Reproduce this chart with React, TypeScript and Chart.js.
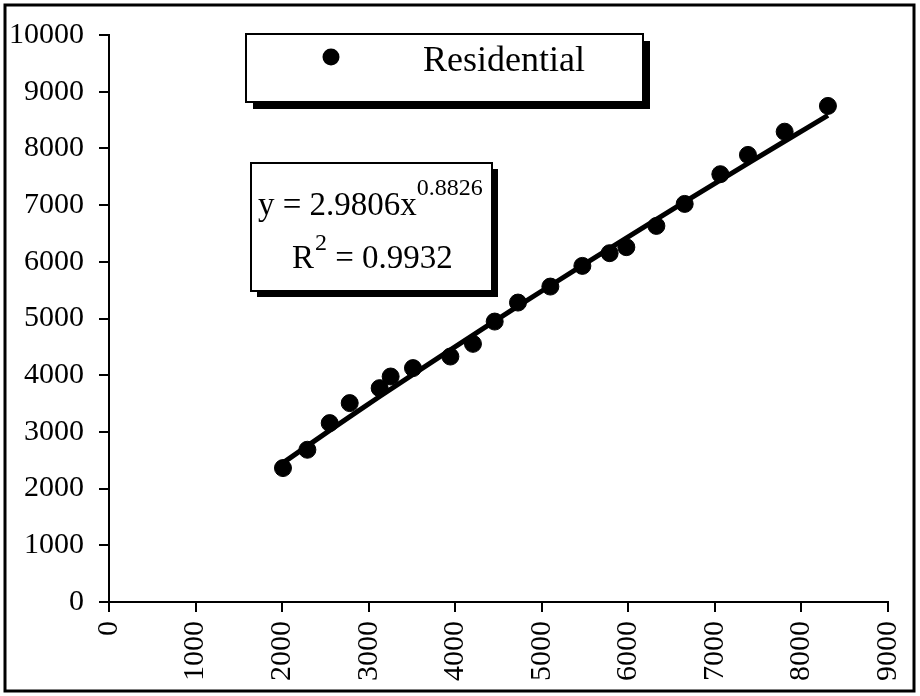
import React, { useEffect, useRef } from "react";
import { Chart, registerables } from "chart.js";

Chart.register(...registerables);

const seriesName = "Residential";
const xValues = [2010, 2292, 2550, 2781, 3127, 3254, 3512, 3944, 4205, 4456, 4725, 5099, 5469, 5784, 5977, 6324, 6651, 7063, 7382, 7806, 8306];
const yValues = [2362, 2685, 3155, 3508, 3772, 3977, 4125, 4329, 4553, 4946, 5281, 5563, 5928, 6152, 6258, 6633, 7021, 7545, 7885, 8295, 8749];
const trendX = [2010, 2550, 3127, 3944, 4725, 5469, 6324, 7063, 7806, 8306];
const trendY = [2453, 3027, 3624, 4447, 5217, 5936, 6748, 7440, 8126, 8582];
const equationMain = "y = 2.9806x";
const equationExp = "0.8826";
const r2Label = "R";
const r2Exp = "2";
const r2Value = " = 0.9932";
const xTicks = [0, 1000, 2000, 3000, 4000, 5000, 6000, 7000, 8000, 9000];
const yTicks = [0, 1000, 2000, 3000, 4000, 5000, 6000, 7000, 8000, 9000, 10000];

const SERIF = '"Liberation Serif", "Times New Roman", serif';

const overlayPlugin = {
  id: "overlay",
  afterDraw(chart: any) {
    const ctx = chart.ctx as CanvasRenderingContext2D;
    ctx.save();
    ctx.strokeStyle = "#000";
    ctx.lineWidth = 3;
    ctx.strokeRect(5, 5, 909, 686);

    const box = (x: number, y: number, w: number, h: number, off: number) => {
      ctx.fillStyle = "#000";
      ctx.fillRect(x + off, y + off, w, h);
      ctx.fillStyle = "#fff";
      ctx.fillRect(x, y, w, h);
      ctx.strokeStyle = "#000";
      ctx.lineWidth = 2;
      ctx.strokeRect(x, y, w, h);
    };

    box(246, 34, 397, 68, 7);
    ctx.fillStyle = "#000";
    ctx.beginPath();
    ctx.arc(331, 57, 8.5, 0, Math.PI * 2);
    ctx.fill();
    ctx.font = `36px ${SERIF}`;
    ctx.textBaseline = "alphabetic";
    ctx.textAlign = "left";
    ctx.fillText(seriesName, 423, 71);

    box(251, 163, 241, 128, 6);
    ctx.fillStyle = "#000";
    ctx.font = `33px ${SERIF}`;
    ctx.fillText(equationMain, 258, 215);
    const w1 = ctx.measureText(equationMain).width;
    ctx.font = `24px ${SERIF}`;
    ctx.fillText(equationExp, 258 + w1, 195);

    ctx.font = `33px ${SERIF}`;
    ctx.fillText(r2Label, 292, 268);
    const wr = ctx.measureText(r2Label).width;
    ctx.font = `24px ${SERIF}`;
    ctx.fillText(r2Exp, 292 + wr + 1, 250);
    const we = ctx.measureText(r2Exp).width;
    ctx.font = `33px ${SERIF}`;
    ctx.fillText(r2Value, 292 + wr + we + 1, 268);
    ctx.restore();
  },
};

export default function App() {
  const ref = useRef<HTMLCanvasElement | null>(null);

  useEffect(() => {
    if (!ref.current) return;
    const chart = new Chart(ref.current, {
      type: "scatter",
      data: {
        datasets: [
          {
            label: "Trend",
            data: trendX.map((x, i) => ({ x, y: trendY[i] })),
            showLine: true,
            borderColor: "#000",
            borderWidth: 5,
            pointRadius: 0,
            tension: 0.3,
          },
          {
            label: seriesName,
            data: xValues.map((x, i) => ({ x, y: yValues[i] })),
            showLine: false,
            backgroundColor: "#000",
            borderColor: "#000",
            pointRadius: 8.5,
            pointHoverRadius: 8.5,
          },
        ],
      },
      options: {
        responsive: false,
        animation: false,
        layout: { padding: { top: 35, right: 32, left: 0, bottom: 0 } },
        plugins: {
          legend: { display: false },
          tooltip: { enabled: false },
        },
        scales: {
          x: {
            type: "linear",
            min: 0,
            max: 9000,
            afterBuildTicks: (s: any) => {
              s.ticks = xTicks.map((v) => ({ value: v }));
            },
            afterFit: (s: any) => {
              s.height = 94;
              s.paddingLeft = 0;
              s.paddingRight = 0;
            },
            ticks: {
              stepSize: 1000,
              maxRotation: 90,
              minRotation: 90,
              padding: 9,
              color: "#000",
              font: { family: SERIF, size: 30 },
              callback: (v: any) => String(v),
            },
            grid: {
              drawOnChartArea: false,
              drawTicks: true,
              tickLength: 10,
              color: "#000",
              lineWidth: 2,
            },
            border: { display: true, color: "#000", width: 2 },
          },
          y: {
            type: "linear",
            min: 0,
            max: 10000,
            afterBuildTicks: (s: any) => {
              s.ticks = yTicks.map((v) => ({ value: v }));
            },
            afterFit: (s: any) => {
              s.width = 109;
              s.paddingTop = 0;
              s.paddingBottom = 0;
            },
            ticks: {
              stepSize: 1000,
              padding: 15,
              color: "#000",
              font: { family: SERIF, size: 30 },
              callback: (v: any) => String(v),
            },
            grid: {
              drawOnChartArea: false,
              drawTicks: true,
              tickLength: 10,
              color: "#000",
              lineWidth: 2,
            },
            border: { display: true, color: "#000", width: 2 },
          },
        },
      },
      plugins: [overlayPlugin],
    } as any);
    return () => chart.destroy();
  }, []);

  return (
    <div style={{ position: "fixed", left: 0, top: 0, width: 920, height: 696, background: "#fff" }}>
      <canvas ref={ref} width={920} height={696} />
    </div>
  );
}
